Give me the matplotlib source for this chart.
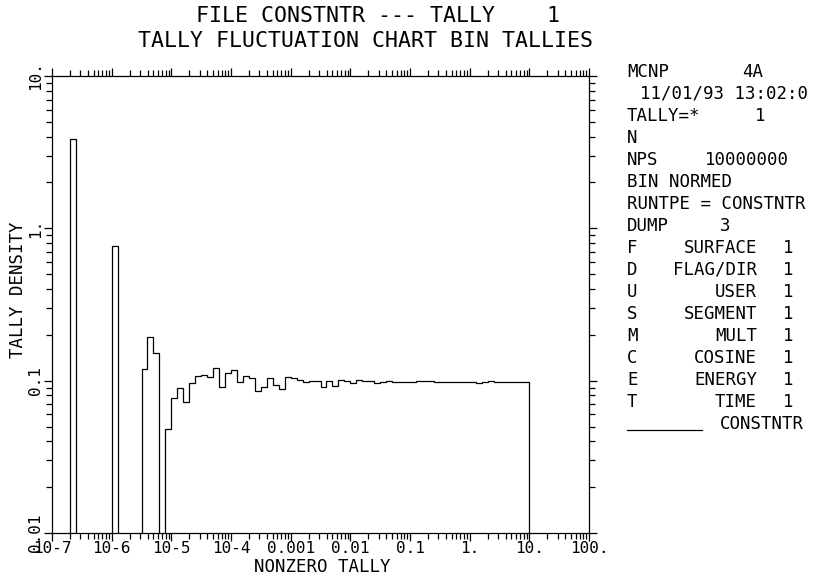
import numpy as np
import matplotlib
matplotlib.use("Agg")
import matplotlib.pyplot as plt
from matplotlib.lines import Line2D

# bin edges: 10 bins per decade from 1e-7 to 10
edge_exp = np.linspace(-7, 1, 81)

# tally density per bin (0 = empty bin)
density = [
    0, 0, 0, 3.85, 0, 0, 0, 0, 0, 0,
    0.765, 0, 0, 0, 0, 0.12, 0.193, 0.152, 0, 0.048,
    0.0766, 0.090, 0.072, 0.0966, 0.107, 0.109, 0.105, 0.122, 0.091, 0.113,
    0.1175, 0.0975, 0.107, 0.104, 0.085, 0.091, 0.104, 0.0932, 0.088, 0.105,
    0.104, 0.101, 0.0975, 0.099, 0.099, 0.091, 0.099, 0.0927, 0.101, 0.099,
    0.096, 0.1015, 0.100, 0.099, 0.097, 0.098, 0.099, 0.098, 0.098, 0.098,
    0.098, 0.099, 0.0995, 0.099, 0.098, 0.098, 0.098, 0.098, 0.0985, 0.0985,
    0.098, 0.097, 0.0975, 0.099, 0.0985, 0.098, 0.098, 0.098, 0.098, 0.098,
]

x_ticks = [1e-7, 1e-6, 1e-5, 1e-4, 1e-3, 1e-2, 1e-1, 1, 10, 100]
x_ticklabels = ['10-7', '10-6', '10-5', '10-4', '0.001', '0.01', '0.1', '1.', '10.', '100.']
y_ticks = [0.01, 0.1, 1, 10]
y_ticklabels = ['0.01', '0.1', '1.', '10.']

title1 = "FILE CONSTNTR --- TALLY    1"
title2 = "TALLY FLUCTUATION CHART BIN TALLIES"

# right-hand info panel
header_rows = [
    ("MCNP", "4A"),
    ("", "11/01/93 13:02:0"),
    ("TALLY=*", "1"),
    ("N", ""),
    ("NPS", "10000000"),
    ("BIN NORMED", ""),
    ("RUNTPE = CONSTNTR", ""),
    ("DUMP", "3"),
]
header_val_x = [742, 640, 755, 0, 705, 0, 0, 720]
bin_letters = ['F', 'D', 'U', 'S', 'M', 'C', 'E', 'T']
bin_names = ['SURFACE', 'FLAG/DIR', 'USER', 'SEGMENT', 'MULT', 'COSINE', 'ENERGY', 'TIME']
bin_counts = [1, 1, 1, 1, 1, 1, 1, 1]
legend_name = "CONSTNTR"

W, H = 824, 576
plt.rcParams['font.family'] = ['DejaVu Sans Mono']
fig = plt.figure(figsize=(W / 100, H / 100), dpi=100)

def fx(px):
    return px / W

def fy(py):
    return 1 - py / H

ax = fig.add_axes([fx(52), fy(533), fx(589) - fx(52), fy(76) - fy(533)])

edges = 10 ** edge_exp
vals = np.array(density, dtype=float)
floor = 1e-4
vals_plot = np.where(vals > 0, vals, floor)
ax.stairs(vals_plot, edges, baseline=floor, color='black', lw=0.9)

ax.set_xscale('log')
ax.set_yscale('log')
ax.set_xlim(1e-7, 100)
ax.set_ylim(0.01, 10)

ax.set_xticks(x_ticks)
ax.set_xticklabels(x_ticklabels)
ax.set_yticks(y_ticks)
ax.set_yticklabels(y_ticklabels, rotation=90, va='center')
ax.xaxis.set_minor_locator(matplotlib.ticker.LogLocator(base=10, subs=np.arange(2, 10), numticks=20))
ax.yaxis.set_minor_locator(matplotlib.ticker.LogLocator(base=10, subs=np.arange(2, 10), numticks=20))
ax.xaxis.set_minor_formatter(matplotlib.ticker.NullFormatter())
ax.yaxis.set_minor_formatter(matplotlib.ticker.NullFormatter())

ax.tick_params(which='both', direction='out', top=True, right=True,
               width=0.9, labelsize=11.5, color='black')
ax.tick_params(which='major', length=5.5)
ax.tick_params(which='minor', length=4)
ax.tick_params(axis='x', pad=0)
ax.tick_params(axis='y', pad=1)
for s in ax.spines.values():
    s.set_linewidth(0.9)

fig.text(fx(322), fy(567), "NONZERO TALLY", ha='center', va='center', fontsize=12.5)
fig.text(fx(18), fy(290), "TALLY DENSITY", ha='center', va='center', rotation=90, fontsize=12.5)

fig.text(fx(378), fy(16), title1, ha='center', va='center', fontsize=15.5)
fig.text(fx(366), fy(41), title2, ha='center', va='center', fontsize=15.5)

# info panel
row_y0 = 72
row_dy = 22
fs = 12.5
x_left = 627
for i, (lab, val) in enumerate(header_rows):
    y = fy(row_y0 + i * row_dy)
    if lab:
        fig.text(fx(x_left), y, lab, ha='left', va='center', fontsize=fs)
    if val:
        fig.text(fx(header_val_x[i]), y, val, ha='left', va='center', fontsize=fs)

for j, (let, name, cnt) in enumerate(zip(bin_letters, bin_names, bin_counts)):
    y = fy(row_y0 + (len(header_rows) + j) * row_dy)
    fig.text(fx(x_left), y, let, ha='left', va='center', fontsize=fs)
    fig.text(fx(757), y, name, ha='right', va='center', fontsize=fs)
    fig.text(fx(788), y, str(cnt), ha='center', va='center', fontsize=fs)

y_leg = row_y0 + (len(header_rows) + len(bin_letters)) * row_dy
fig.add_artist(Line2D([fx(627), fx(702)], [fy(y_leg + 6), fy(y_leg + 6)],
                      color='black', lw=0.9, transform=fig.transFigure))
fig.text(fx(720), fy(y_leg), legend_name, ha='left', va='center', fontsize=fs)

fig.savefig("out.png", dpi=100)
